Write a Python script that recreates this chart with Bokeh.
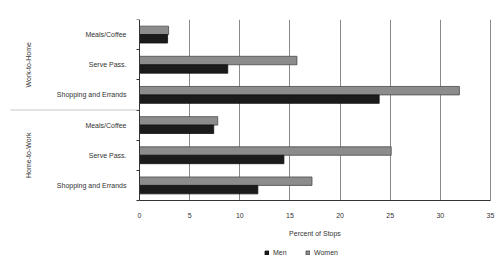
from bokeh.plotting import figure
from bokeh.models import Range1d, FixedTicker, Label, BoxAnnotation, Legend, LegendItem
from bokeh.embed import file_html
from bokeh.resources import INLINE
import math

groups = ["Work-to-Home", "Home-to-Work"]
activities = ["Meals/Coffee", "Serve Pass.", "Shopping and Errands"]
men_pct = [2.8, 8.8, 23.9, 7.4, 14.4, 11.8]
women_pct = [2.9, 15.7, 31.9, 7.8, 25.1, 17.2]
x_ticks = [0, 5, 10, 15, 20, 25, 30, 35]
x_title = "Percent of Stops"
series_names = ["Men", "Women"]

FONT = "Liberation Sans"
TXT = "#333333"

# layout (pixels)
W, H = 500, 260
LEFT_PX, RIGHT_PAD, TOP_PAD, CAT_PX = 139, 10, 19, 181
plot_px = W - LEFT_PX - RIGHT_PAD
x_max = x_ticks[-1]
ppu = plot_px / x_max
x_lo = -LEFT_PX / ppu            # frame extends into the left margin
x_hi = x_max + RIGHT_PAD / ppu   # and a little to the right so "35" is not clipped

labels = activities * len(groups)
n = len(labels)
y_hi = n * (H - TOP_PAD) / CAT_PX   # frame extends below the bars for axis & legend
centers = [i + 0.5 for i in range(n)]
bar_h = 0.28
off = 0.14

p = figure(width=W, height=H, output_backend="svg", toolbar_location=None,
           x_range=Range1d(x_lo, x_hi), y_range=Range1d(y_hi, 0),
           min_border_left=0, min_border_right=0, min_border_top=TOP_PAD,
           min_border_bottom=0)
p.outline_line_color = None
p.background_fill_color = "white"

p.ygrid.grid_line_color = None
p.xgrid.ticker = FixedTicker(ticks=x_ticks[1:])
p.xgrid.grid_line_color = "#8a8a8a"
p.xgrid.grid_line_width = 1
# hide grid below the category area
p.add_layout(BoxAnnotation(top=n, top_units="data", fill_color="white", fill_alpha=1,
                           line_color=None, level="underlay"))

women_r = p.hbar(y=[c - off for c in centers], right=women_pct, left=0, height=bar_h,
                 fill_color="#8c8c8c", line_color="#4a4a4a", line_width=0.8)
men_r = p.hbar(y=[c + off for c in centers], right=men_pct, left=0, height=bar_h,
               fill_color="#1b1b1b", line_color="#111111", line_width=0.8)

# y axis (drawn at x = 0)
ya = p.yaxis[0]
ya.fixed_location = 0
ya.bounds = (0, n)
ya.ticker = FixedTicker(ticks=centers, minor_ticks=list(range(n + 1)))
ya.major_label_overrides = {c: l for c, l in zip(centers, labels)}
ya.major_tick_out = 0
ya.major_tick_in = 0
ya.minor_tick_out = 3
ya.minor_tick_in = 0
ya.minor_tick_line_color = TXT
ya.axis_line_color = TXT
ya.major_label_standoff = 10
ya.major_label_text_font = FONT
ya.major_label_text_font_size = "7px"
ya.major_label_text_color = TXT

# x axis (drawn at bottom of categories)
xa = p.xaxis[0]
xa.fixed_location = n
xa.bounds = (0, x_max)
xa.ticker = FixedTicker(ticks=x_ticks)
xa.major_tick_out = 0
xa.major_tick_in = 0
xa.minor_tick_line_color = None
xa.axis_line_color = TXT
xa.major_label_standoff = 12
xa.major_label_text_font = FONT
xa.major_label_text_font_size = "7px"
xa.major_label_text_color = TXT
xa.axis_label = x_title
xa.axis_label_standoff = 9
xa.axis_label_text_font = FONT
xa.axis_label_text_font_size = "7px"
xa.axis_label_text_font_style = "normal"
xa.axis_label_text_color = TXT

# group labels
per = len(activities)
for gi, g in enumerate(groups):
    p.add_layout(Label(x=28, x_units="screen", y=gi * per + per / 2, y_units="data",
                       text=g, angle=math.pi / 2, text_align="center",
                       text_baseline="middle", text_font=FONT, text_font_size="7px",
                       text_color=TXT))

# group separator
for gi in range(1, len(groups)):
    p.add_layout(BoxAnnotation(left=10, left_units="screen", right=0, right_units="data",
                               top=gi * per, top_units="data", bottom=gi * per,
                               bottom_units="data", fill_color=None, fill_alpha=0,
                               line_color="#999999", line_width=1))

legend = Legend(items=[LegendItem(label=series_names[0], renderers=[men_r]),
                       LegendItem(label=series_names[1], renderers=[women_r])],
                location=(264, 4), orientation="horizontal",
                glyph_width=5, glyph_height=5, label_height=8, label_standoff=4,
                spacing=12, padding=0, margin=0, border_line_color=None,
                background_fill_alpha=0, label_text_font=FONT,
                label_text_font_size="7px", label_text_color=TXT)
p.add_layout(legend)

open("out.html", "w").write(file_html(p, INLINE))
